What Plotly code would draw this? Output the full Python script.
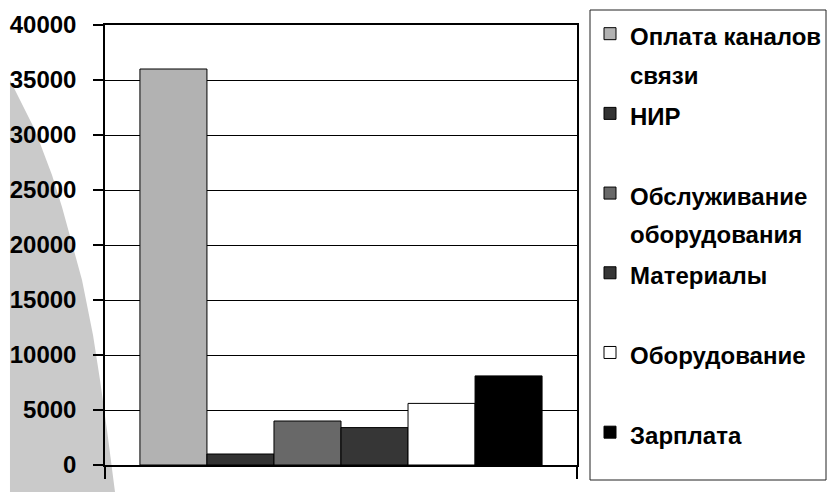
import plotly.graph_objects as go

# Cost items and their amounts
items = ["Оплата каналов связи", "НИР", "Обслуживание оборудования",
         "Материалы", "Оборудование", "Зарплата"]
legend_lines = [["Оплата каналов", "связи"], ["НИР"],
                ["Обслуживание", "оборудования"], ["Материалы"],
                ["Оборудование"], ["Зарплата"]]
values = [36000, 1000, 4000, 3400, 5600, 8100]
colors = ["#b2b2b2", "#333333", "#686868", "#363636", "#ffffff", "#000000"]
group = ["Затраты"]
y_ticks = [0, 5000, 10000, 15000, 20000, 25000, 30000, 35000, 40000]

FONT = "Liberation Sans, Arial, sans-serif"
W, H = 830, 492
L, R, T, B = 105, 253, 25, 27
PW, PH = W - L - R, H - T - B


def px_to_paper(px, py):
    return (px - L) / PW, 1 - (py - T) / PH


def legend_label(lines):
    # every entry takes two lines so the entries are evenly spaced
    lines = list(lines) + ["\u00a0"] * (2 - len(lines))
    return "<br>".join(f"<span style='font-size:24px'>{s}</span>" for s in lines)


fig = go.Figure()
for name, lines, v, c in zip(items, legend_lines, values, colors):
    fig.add_trace(go.Bar(
        x=group, y=[v], name=legend_label(lines),
        marker=dict(color=c, line=dict(color="#000000", width=1)),
        legendgroup=name, hovertext=name,
    ))

# soft grey decoration on the left edge
edge = [(10, 80), (20, 100), (35, 130), (52, 175), (62, 207), (82, 280),
        (93, 335), (100, 380), (107, 430), (115, 492)]
pts = [px_to_paper(*p) for p in edge]
bl = px_to_paper(10, 492)
path = "M {:.4f},{:.4f} ".format(*pts[0]) + " ".join(
    "L {:.4f},{:.4f}".format(*p) for p in pts[1:]) + " L {:.4f},{:.4f} Z".format(*bl)

x0, y0 = px_to_paper(590, 10)
x1, y1 = px_to_paper(826, 480)
fig.update_layout(
    shapes=[
        dict(type="path", xref="paper", yref="paper", path=path,
             fillcolor="#cacaca", line=dict(width=0), layer="below"),
        dict(type="rect", xref="paper", yref="paper", x0=x0, y0=y0, x1=x1, y1=y1,
             line=dict(color="#222222", width=1), fillcolor="rgba(0,0,0,0)"),
    ],
)

fig.update_layout(
    width=W, height=H,
    margin=dict(l=L, r=R, t=T, b=B, autoexpand=False),
    paper_bgcolor="#ffffff", plot_bgcolor="rgba(0,0,0,0)",
    barmode="group", bargap=0.148, bargroupgap=0,
    showlegend=True,
    legend=dict(x=px_to_paper(590, 0)[0], y=px_to_paper(0, 8)[1],
                xanchor="left", yanchor="top", valign="top",
                traceorder="normal", tracegroupgap=0, maxheight=490,
                font=dict(family=FONT, size=29.5, color="#000000", weight="bold"),
                bgcolor="rgba(0,0,0,0)", borderwidth=0),
    font=dict(family=FONT, color="#000000"),
)
fig.update_xaxes(
    showgrid=False, showticklabels=False, tickmode="array", tickvals=[-0.5, 0.5],
    ticks="outside", ticklen=12, tickcolor="#000000", tickwidth=1.5,
    showline=True, linecolor="#000000", linewidth=1.5, mirror=True,
    range=[-0.5, 0.5],
)
fig.update_yaxes(
    range=[0, 40000], tickmode="array", tickvals=y_ticks,
    ticktext=[str(t) for t in y_ticks],
    showgrid=True, gridcolor="#000000", gridwidth=1,
    showline=True, linecolor="#000000", linewidth=1.5, mirror=True,
    ticks="outside", ticklen=10, tickcolor="#000000", tickwidth=1.5,
    ticklabelstandoff=12, zeroline=False,
    tickfont=dict(family=FONT, size=24, color="#000000", weight="bold"),
)

fig.write_html("out.html")
